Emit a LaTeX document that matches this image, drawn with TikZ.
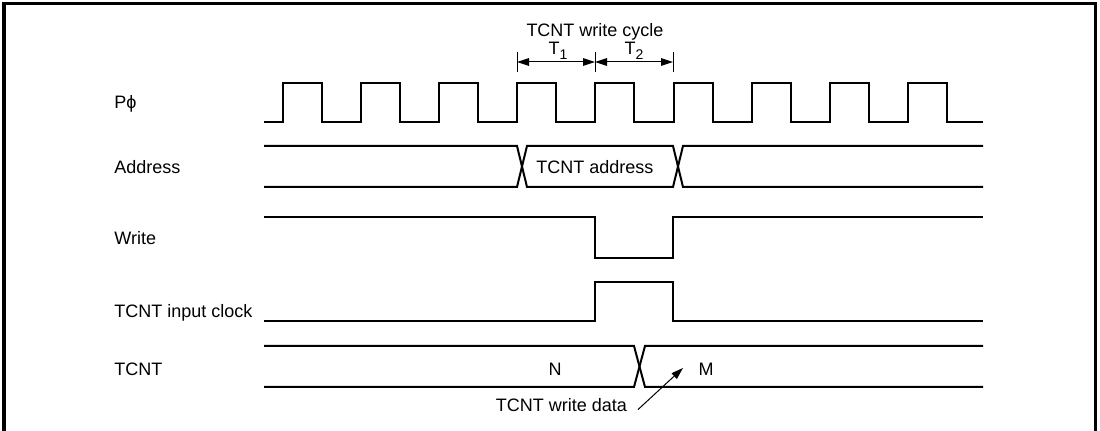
\documentclass[tikz,border=0pt]{standalone}
\usepackage{fontspec}
\setmainfont{Liberation Sans}
\usetikzlibrary{arrows.meta}

\newcommand{\lowsub}[1]{\raisebox{-2.5pt}{\fontsize{7}{8}\selectfont #1}}

\begin{document}
\begin{tikzpicture}[x=0.5pt, y=-0.5pt,
    sig/.style={line width=1pt, line join=miter},
    frame/.style={line width=1.5pt},
    lbl/.style={anchor=base west, font=\fontsize{9}{10}\selectfont, inner sep=0pt},
    txt/.style={font=\fontsize{9}{10}\selectfont},
    dim/.style={{Triangle[length=6pt,width=3.8pt]}-{Triangle[length=6pt,width=3.8pt]}, line width=0.5pt},
    arr/.style={-{Triangle[length=6pt,width=3.8pt]}, line width=0.5pt},
]
\useasboundingbox (0,0) rectangle (1100,431);
\draw[frame] (4,431) -- (4,4) -- (1095,4) -- (1095,431);

% signal names
\node[lbl] (pphi)  at (114,109) {P\char"03D5};
\node[lbl] (addr)  at (114,174) {Address};
\node[lbl] (wr)    at (114,245) {Write};
\node[lbl] (inclk) at (114,318) {TCNT input clock};
\node[lbl] (tcnt)  at (114,376) {TCNT};

% write cycle T1 / T2
\coordinate (ta) at (517,62);
\coordinate (tb) at (595,62);
\coordinate (tc) at (673,62);
\foreach \c in {ta,tb,tc}
  \draw[line width=0.5pt] ([yshift=5pt]\c) -- ([yshift=-5pt]\c);
\draw[dim] (ta) -- (tb);
\draw[dim] (tb) -- (tc);
\node[txt, anchor=base, inner sep=0pt] (tone) at (558,55) {T\lowsub{1}};
\node[txt, anchor=base, inner sep=0pt] (ttwo) at (634,55) {T\lowsub{2}};
\node[txt] (cyc) at (595,32) {TCNT write cycle};

% P phi
\draw[sig] (264,122) foreach \k in {0,...,8} {
    -- ({283+78.1*\k},122) -- ({283+78.1*\k},83)
    -- ({322+78.1*\k},83) -- ({322+78.1*\k},122) } -- (983,122);

% Address
\draw[sig] (264,146) -- (517,146) -- (527,187) -- (673,187) -- (683,146) -- (983,146);
\draw[sig] (264,187) -- (517,187) -- (527,146) -- (673,146) -- (683,187) -- (983,187);
\node[txt] (aval) at (595,167) {TCNT address};

% Write
\draw[sig] (264,217) -- (595,217) -- (595,258) -- (673,258) -- (673,217) -- (983,217);

% TCNT input clock
\draw[sig] (264,321) -- (595,321) -- (595,282) -- (673,282) -- (673,321) -- (983,321);

% TCNT
\draw[sig] (264,346) -- (634,346) -- (645,387) -- (983,387);
\draw[sig] (264,387) -- (634,387) -- (645,346) -- (983,346);
\node[txt] (nval) at (555,369) {N};
\node[txt] (mval) at (706,369) {M};

\node[txt, anchor=base east] (wdata) at (634,412) {TCNT write data};
\coordinate (mdata) at (683,368);
\draw[arr] (wdata.east) ++(4,4) -- (mdata);
\end{tikzpicture}
\end{document}
